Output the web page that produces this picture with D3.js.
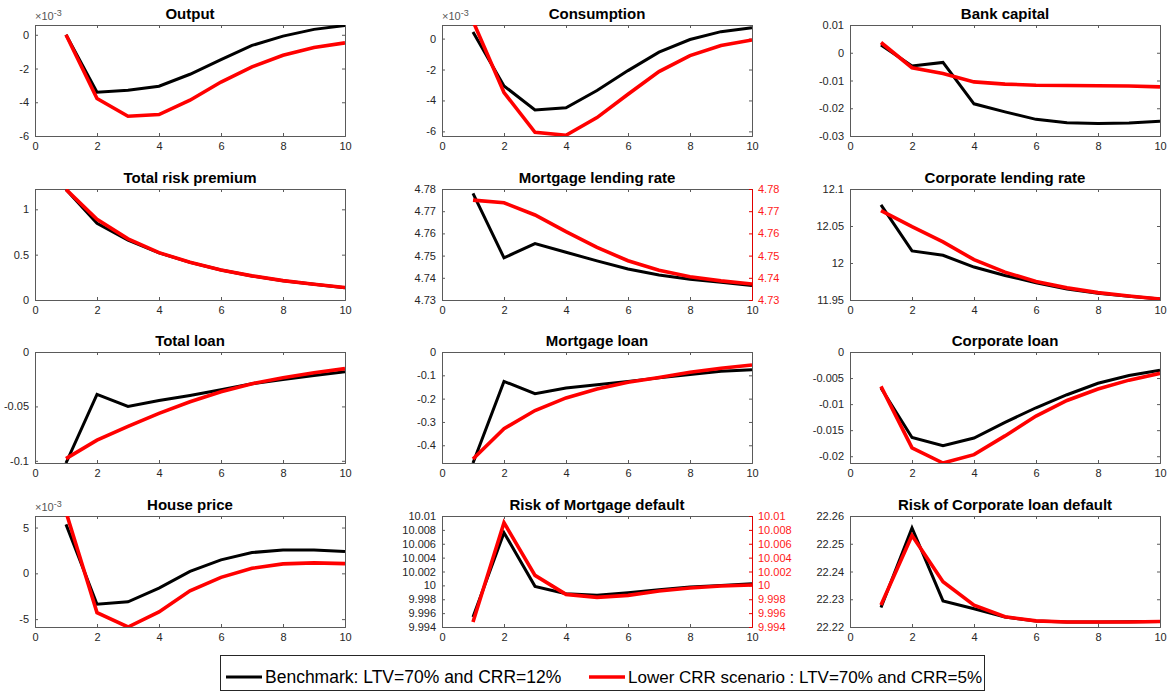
<!DOCTYPE html>
<html><head><meta charset="utf-8">
<script src="https://cdn.jsdelivr.net/npm/d3@7"></script>
<style>
body{margin:0;background:#fff;}
svg{font-family:"Liberation Sans",Arial,Helvetica,sans-serif;}
</style>
</head><body><svg id="c" width="1168" height="695"></svg>
<script>
// ---------------- data ----------------
const periods = [1,2,3,4,5,6,7,8,9,10];
const xTicks = [0,2,4,6,8,10];
const seriesNames = ["Benchmark: LTV=70% and CRR=12%", "Lower CRR scenario : LTV=70% and CRR=5%"];

const outputBench = [0.0e-3,-3.40e-3,-3.29e-3,-3.05e-3,-2.34e-3,-1.47e-3,-0.63e-3,-0.08e-3,0.32e-3,0.55e-3];
const outputLow   = [0.0e-3,-3.78e-3,-4.83e-3,-4.73e-3,-3.88e-3,-2.80e-3,-1.90e-3,-1.21e-3,-0.75e-3,-0.48e-3];

const consBench = [0.43e-3,-3.06e-3,-4.61e-3,-4.48e-3,-3.36e-3,-2.07e-3,-0.88e-3,-0.06e-3,0.45e-3,0.71e-3];
const consLow   = [1.13e-3,-3.49e-3,-6.06e-3,-6.25e-3,-5.11e-3,-3.60e-3,-2.13e-3,-1.10e-3,-0.45e-3,-0.09e-3];

const bankCapBench = [0.0028,-0.0048,-0.0035,-0.0184,-0.0213,-0.0240,-0.0252,-0.0255,-0.0253,-0.0247];
const bankCapLow   = [0.0037,-0.0054,-0.0075,-0.0105,-0.0113,-0.0117,-0.0118,-0.0119,-0.0120,-0.0123];

const riskPremBench = [1.22,0.846,0.66,0.52,0.415,0.33,0.265,0.213,0.173,0.136];
const riskPremLow   = [1.22,0.89,0.675,0.522,0.416,0.331,0.266,0.214,0.174,0.137];

const mortRateBench = [4.778,4.749,4.7554,4.7515,4.7476,4.744,4.7413,4.7393,4.738,4.7365];
const mortRateLow   = [4.775,4.7738,4.7683,4.7608,4.7537,4.7477,4.7434,4.7405,4.7386,4.7372];

const corpRateBench = [12.0786,12.0164,12.0105,11.9945,11.9832,11.9732,11.965,11.959,11.955,11.9514];
const corpRateLow   = [12.0709,12.0491,12.0286,12.0045,11.9877,11.975,11.9664,11.960,11.9555,11.9514];

const totLoanBench = [-0.102,-0.039,-0.050,-0.0445,-0.0399,-0.0347,-0.0291,-0.0252,-0.0215,-0.0181];
const totLoanLow   = [-0.098,-0.081,-0.0684,-0.0564,-0.0457,-0.0365,-0.0291,-0.0236,-0.019,-0.0153];

const mortLoanBench = [-0.476,-0.126,-0.179,-0.154,-0.140,-0.126,-0.111,-0.097,-0.083,-0.076];
const mortLoanLow   = [-0.459,-0.329,-0.251,-0.197,-0.159,-0.130,-0.109,-0.087,-0.070,-0.056];

const corpLoanBench = [-0.0069,-0.0164,-0.0180,-0.0165,-0.0135,-0.0107,-0.0082,-0.0060,-0.0045,-0.0035];
const corpLoanLow   = [-0.0066,-0.0184,-0.0213,-0.0197,-0.0161,-0.0123,-0.0093,-0.0071,-0.0054,-0.0041];

const housePriceBench = [5.35e-3,-3.37e-3,-3.11e-3,-1.61e-3,0.22e-3,1.47e-3,2.27e-3,2.56e-3,2.56e-3,2.38e-3];
const housePriceLow   = [6.7e-3,-4.29e-3,-5.86e-3,-4.21e-3,-1.90e-3,-0.44e-3,0.55e-3,1.03e-3,1.14e-3,1.06e-3];

const mortDefBench = [9.99544,10.0076,9.99986,9.9988,9.99856,9.99894,9.99938,9.99976,10.0000,10.00024];
const mortDefLow   = [9.99472,10.00904,10.00144,9.9987,9.99827,9.99856,9.99918,9.99962,9.9999,10.00005];

const corpDefBench = [22.227,22.2557,22.2294,22.2266,22.2236,22.2222,22.2218,22.2218,22.2219,22.222];
const corpDefLow   = [22.2279,22.253,22.2363,22.2279,22.2237,22.2222,22.2218,22.2218,22.2218,22.222];

const titles = ["Output","Consumption","Bank capital","Total risk premium","Mortgage lending rate","Corporate lending rate",
  "Total loan","Mortgage loan","Corporate loan","House price","Risk of Mortgage default","Risk of Corporate loan default"];

const tickOutput = [-6e-3,-4e-3,-2e-3,0];
const tickCons = [-6e-3,-4e-3,-2e-3,0];
const tickBank = [-0.03,-0.02,-0.01,0,0.01];
const tickPrem = [0,0.5,1];
const tickMortRate = [4.73,4.74,4.75,4.76,4.77,4.78];
const tickCorpRate = [11.95,12,12.05,12.1];
const tickTotLoan = [-0.1,-0.05,0];
const tickMortLoan = [-0.4,-0.3,-0.2,-0.1,0];
const tickCorpLoan = [-0.02,-0.015,-0.01,-0.005,0];
const tickHouse = [-5e-3,0,5e-3];
const tickMortDef = [9.994,9.996,9.998,10,10.002,10.004,10.006,10.008,10.01];
const tickCorpDef = [22.22,22.23,22.24,22.25,22.26];

// ---------------- panel config ----------------
const panels = [
 {bench:outputBench, low:outputLow, dom:[-6e-3,0.58e-3], ticks:tickOutput, exp:true},
 {bench:consBench, low:consLow, dom:[-6.3e-3,0.88e-3], ticks:tickCons, exp:true},
 {bench:bankCapBench, low:bankCapLow, dom:[-0.03,0.01], ticks:tickBank},
 {bench:riskPremBench, low:riskPremLow, dom:[0,1.224], ticks:tickPrem},
 {bench:mortRateBench, low:mortRateLow, dom:[4.73,4.78], ticks:tickMortRate, dual:true},
 {bench:corpRateBench, low:corpRateLow, dom:[11.95,12.1], ticks:tickCorpRate},
 {bench:totLoanBench, low:totLoanLow, dom:[-0.102,0], ticks:tickTotLoan},
 {bench:mortLoanBench, low:mortLoanLow, dom:[-0.476,0], ticks:tickMortLoan},
 {bench:corpLoanBench, low:corpLoanLow, dom:[-0.0213,0], ticks:tickCorpLoan},
 {bench:housePriceBench, low:housePriceLow, dom:[-5.86e-3,6.26e-3], ticks:tickHouse, exp:true},
 {bench:mortDefBench, low:mortDefLow, dom:[9.994,10.01], ticks:tickMortDef, dual:true},
 {bench:corpDefBench, low:corpDefLow, dom:[22.22,22.26], ticks:tickCorpDef},
];

const colLeft = [35, 442, 850];
const plotW = 310;
const rowTop = [25, 189, 352, 516];
const plotH = 111;
const axisCol = "#262626";
const boxCol = "#5a5a5a";

const svg = d3.select("#c");
const fmt = v => String(+v.toFixed(6));

panels.forEach((p, i) => {
  const r = Math.floor(i/3), c = i%3;
  const x0 = colLeft[c], y0 = rowTop[r];
  const g = svg.append("g").attr("transform", `translate(${x0},${y0})`);
  const x = d3.scaleLinear().domain([0,10]).range([0,plotW]);
  const y = d3.scaleLinear().domain(p.dom).range([plotH,0]);
  const scaleF = p.exp ? 1000 : 1;

  svg.append("clipPath").attr("id","clip"+i).append("rect").attr("width",plotW).attr("height",plotH);

  g.append("text").attr("x",plotW/2).attr("y",-6).attr("text-anchor","middle")
    .attr("font-weight","bold").attr("font-size","15px").attr("fill","#000").text(titles[i]);

  const tickLen = 3;
  const xAxis = d3.axisBottom(x).tickValues(xTicks).tickSize(-tickLen).tickPadding(6).tickFormat(d3.format("d"));
  const gx = g.append("g").attr("transform",`translate(0,${plotH})`).call(xAxis);
  const xTop = d3.axisTop(x).tickValues(xTicks).tickSize(-tickLen).tickFormat("");
  const gxt = g.append("g").call(xTop);
  const yAxis = d3.axisLeft(y).tickValues(p.ticks).tickSize(-tickLen).tickPadding(6).tickFormat(v => fmt(v*scaleF));
  const gy = g.append("g").call(yAxis);
  const rightCol = p.dual ? "#e00000" : boxCol;
  const yRight = d3.axisRight(y).tickValues(p.ticks).tickSize(-tickLen).tickPadding(6)
      .tickFormat(p.dual ? (v => fmt(v)) : "");
  const gyr = g.append("g").attr("transform",`translate(${plotW},0)`).call(yRight);

  [gx,gxt,gy,gyr].forEach(a => {
    a.selectAll("path.domain").attr("stroke",boxCol).attr("stroke-width",1);
    a.selectAll(".tick line").attr("stroke",boxCol);
    a.selectAll("text").attr("fill",axisCol).attr("font-size","11px")
      .attr("font-family",'"Liberation Sans",Arial,sans-serif');
  });
  if (p.dual) {
    gyr.selectAll("path.domain").attr("stroke",rightCol);
    gyr.selectAll(".tick line").attr("stroke",rightCol);
    gyr.selectAll("text").attr("fill","#ff1a1a");
  }

  if (p.exp) {
    const t = g.append("text").attr("x",0).attr("y",-5).attr("fill","#555").attr("font-size","11px");
    t.append("tspan").text("\u00d710");
    t.append("tspan").attr("dy",-4).attr("font-size","9px").text("-3");
  }

  const line = d3.line().x((d,k) => x(periods[k])).y(d => y(d));
  const lg = g.append("g").attr("clip-path",`url(#clip${i})`);
  lg.append("path").datum(p.bench).attr("d",line).attr("fill","none")
    .attr("stroke","#000").attr("stroke-width",3);
  lg.append("path").datum(p.low).attr("d",line).attr("fill","none")
    .attr("stroke","#ff0000").attr("stroke-width",3.6);
});

// ---------------- legend ----------------
const lgd = svg.append("g");
lgd.append("rect").attr("x",220.5).attr("y",655.5).attr("width",764).attr("height",35)
  .attr("fill","#fff").attr("stroke","#262626").attr("stroke-width",1);
const legendItems = [
  {name:seriesNames[0], color:"#000", x:226, w:3, fs:17.5},
  {name:seriesNames[1], color:"#ff0000", x:589, w:3.6, fs:17}
];
legendItems.forEach(it => {
  lgd.append("line").attr("x1",it.x).attr("x2",it.x+36).attr("y1",677).attr("y2",677)
    .attr("stroke",it.color).attr("stroke-width",it.w);
  lgd.append("text").attr("x",it.x+39).attr("y",683).attr("font-size",it.fs+"px").attr("fill","#000").text(it.name);
});
</script>
</body></html>
